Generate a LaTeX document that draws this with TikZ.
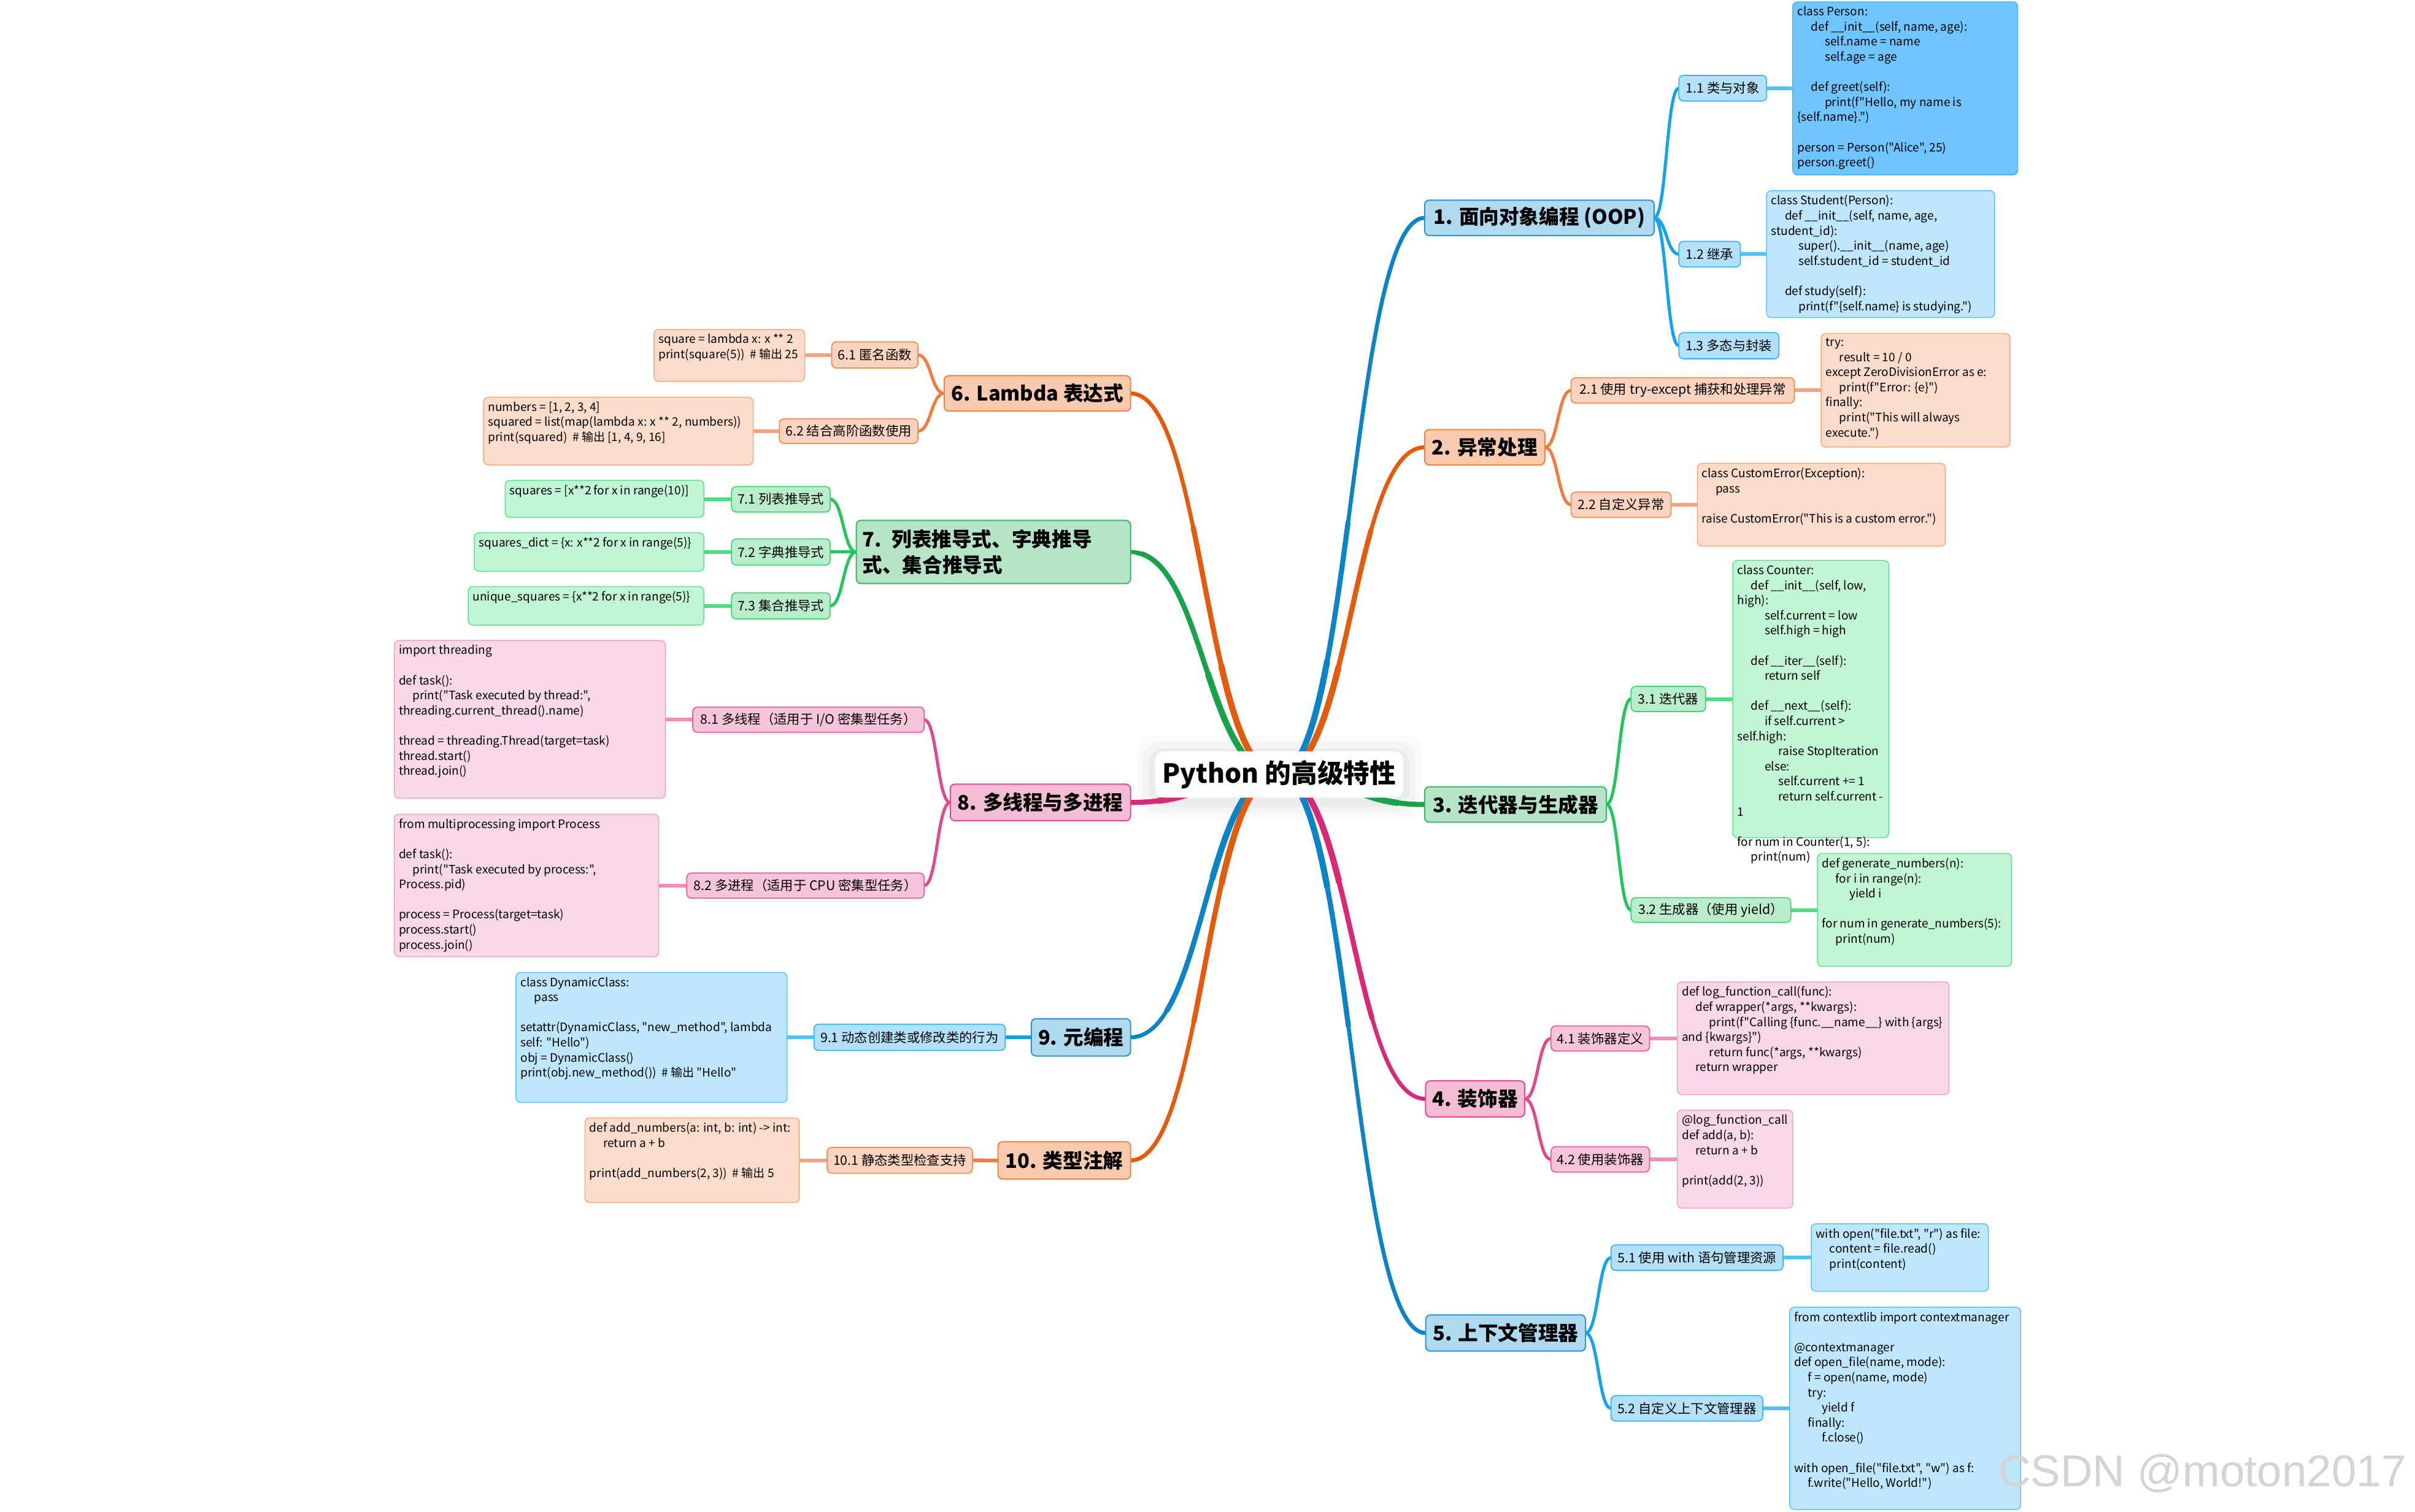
\documentclass[tikz,border=0pt]{standalone}
\usepackage{fontspec}
\newfontfamily\cn{Noto Sans CJK SC}
\newfontfamily\wmfont{Liberation Sans}
\usetikzlibrary{calc}
\pgfdeclarelayer{bg}
\pgfsetlayers{bg,main}
% blue
\definecolor{bLa}{HTML}{0B84C7}\definecolor{bNaF}{HTML}{AED9EF}\definecolor{bNaD}{HTML}{2B95D6}
\definecolor{bLb}{HTML}{12A3EE}\definecolor{bNbF}{HTML}{B3E1F9}\definecolor{bNbD}{HTML}{3BB4F2}
\definecolor{bLc}{HTML}{4DC3F9}\definecolor{bCF}{HTML}{BEE6FD}\definecolor{bCD}{HTML}{5CC1F7}
\definecolor{bCdF}{HTML}{6EC5FF}\definecolor{bCdD}{HTML}{4AB4F6}
% orange
\definecolor{oLa}{HTML}{E65A0C}\definecolor{oNaF}{HTML}{F8CAAE}\definecolor{oNaD}{HTML}{EE8448}
\definecolor{oLb}{HTML}{F57A3C}\definecolor{oNbF}{HTML}{FBD4BF}\definecolor{oNbD}{HTML}{F48B53}
\definecolor{oLc}{HTML}{F8A27D}\definecolor{oCF}{HTML}{FBDCCB}\definecolor{oCD}{HTML}{F6A883}
% green
\definecolor{gLa}{HTML}{17A34A}\definecolor{gNaF}{HTML}{B5E4C7}\definecolor{gNaD}{HTML}{34B96A}
\definecolor{gLb}{HTML}{22C55E}\definecolor{gNbF}{HTML}{B9EDCC}\definecolor{gNbD}{HTML}{44D276}
\definecolor{gLc}{HTML}{4ADE80}\definecolor{gCF}{HTML}{C1F5D5}\definecolor{gCD}{HTML}{63E090}
% pink
\definecolor{pLa}{HTML}{DB2777}\definecolor{pNaF}{HTML}{F3BDD5}\definecolor{pNaD}{HTML}{E2498E}
\definecolor{pLb}{HTML}{E4488C}\definecolor{pNbF}{HTML}{F6C5DA}\definecolor{pNbD}{HTML}{E95C9A}
\definecolor{pLc}{HTML}{F08CB7}\definecolor{pCF}{HTML}{F8D8E7}\definecolor{pCD}{HTML}{F0A2C5}
\definecolor{wmgray}{HTML}{D4D4D4}

\tikzset{
  every node/.style={inner sep=0pt, outer sep=0pt},
  lone/.style={draw, rounded corners=3pt, line width=0.8pt, font=\cn\bfseries\fontsize{13}{15}\selectfont},
  ltwo/.style={draw, rounded corners=3pt, line width=0.7pt, font=\cn\fontsize{8.5}{10}\selectfont},
  codebox/.style={draw, rounded corners=3pt, line width=0.6pt},
  codetext/.style={anchor=north west, align=left, font=\cn\fontsize{7.6}{9.8}\selectfont},
  rootnode/.style={fill=white, rounded corners=6pt, font=\cn\bfseries\fontsize{17}{20}\selectfont},
  bA/.style={fill=bNaF, draw=bNaD}, bB/.style={fill=bNbF, draw=bNbD},
  bC/.style={fill=bCF, draw=bCD}, bCd/.style={fill=bCdF, draw=bCdD},
  oA/.style={fill=oNaF, draw=oNaD}, oB/.style={fill=oNbF, draw=oNbD}, oC/.style={fill=oCF, draw=oCD},
  gA/.style={fill=gNaF, draw=gNaD}, gB/.style={fill=gNbF, draw=gNbD}, gC/.style={fill=gCF, draw=gCD},
  pA/.style={fill=pNaF, draw=pNaD}, pB/.style={fill=pNbF, draw=pNbD}, pC/.style={fill=pCF, draw=pCD},
  lineB/.style={line width=2pt},
  lineC/.style={line width=2.4pt},
}
\newcommand\bx[7]{\node[#1, minimum width={(#5-#3)*1pt}, minimum height={(#6-#4)*1pt}] (#2) at ({(#3+#5)/2},{(#4+#6)/2}) {#7};}
\newcommand\brc[3]{\draw[#1] let \p1=(#2), \p2=(#3) in (#2) .. controls ({0.5*(\x1+\x2)},\y1) and ({0.5*(\x1+\x2)},\y2) .. (#3);}
\newcommand\ii{\hspace*{8.9pt}}
\newcommand\bl{\mbox{}}
\newcommand\mainlines[1]{%
  \brc{#1,bLa}{rc}{n1.west}
  \brc{#1,oLa}{rc}{n2.west}
  \brc{#1,gLa}{rc}{n3.west}
  \brc{#1,pLa}{rc}{n4.west}
  \brc{#1,bLa}{rc}{n5.west}
  \brc{#1,oLa}{rc}{n6.east}
  \brc{#1,gLa}{rc}{n7.east}
  \brc{#1,pLa}{rc}{n8.east}
  \brc{#1,bLa}{rc}{n9.east}
  \brc{#1,oLa}{rc}{n10.east}}

\begin{document}
\begin{tikzpicture}[x=1pt,y=-1pt]
\useasboundingbox (0,0) rectangle (1568,981.6);

% ---------- root ----------
\bx{rootnode}{root}{750}{488}{911}{518}{Python 的高级特性}
\coordinate (rc) at (830,503);

% ---------- level 1 ----------
\bx{lone,bA}{n1}{925}{130}{1074}{153}{1. 面向对象编程 (OOP)}
\bx{lone,oA}{n2}{925}{279}{1003}{302}{2. 异常处理}
\bx{lone,gA}{n3}{925}{511}{1043}{534}{3. 迭代器与生成器}
\bx{lone,pA}{n4}{925.6}{702}{990}{725.4}{4. 装饰器}
\bx{lone,bA}{n5}{925.7}{854}{1029.4}{877.5}{5. 上下文管理器}
\bx{lone,oA}{n6}{613}{244}{734}{267}{6. Lambda 表达式}
\bx{lone,gA,align=left,text width=170pt,font=\cn\bfseries\fontsize{13}{16.6}\selectfont}{n7}{556}{338}{734}{379}{7. 列表推导式、字典推导\\式、集合推导式}
\bx{lone,pA}{n8}{617}{509.3}{734}{533}{8. 多线程与多进程}
\bx{lone,bA}{n9}{669.6}{661.6}{734}{685.8}{9. 元编程}
\bx{lone,oA}{n10}{648}{741.5}{734}{765.8}{10. 类型注解}

% ---------- level 2 ----------
\bx{ltwo,bB}{n11}{1090}{49}{1147}{65.6}{1.1 类与对象}
\bx{ltwo,bB}{n12}{1090}{156.8}{1130}{173.4}{1.2 继承}
\bx{ltwo,bB}{n13}{1090}{216}{1155}{233}{1.3 多态与封装}
\bx{ltwo,oB}{n21}{1020}{245.3}{1165}{261.8}{2.1 使用 try-except 捕获和处理异常}
\bx{ltwo,oB}{n22}{1020}{319.6}{1085}{336}{2.2 自定义异常}
\bx{ltwo,gB}{n31}{1059}{445.8}{1107.4}{462.1}{3.1 迭代器}
\bx{ltwo,gB}{n32}{1059}{583}{1162.7}{599}{3.2 生成器（使用 yield）}
\bx{ltwo,pB}{n41}{1007}{666.3}{1071}{682.6}{4.1 装饰器定义}
\bx{ltwo,pB}{n42}{1007}{744.8}{1071}{761.2}{4.2 使用装饰器}
\bx{ltwo,bB}{n51}{1046}{808.5}{1157.7}{825}{5.1 使用 with 语句管理资源}
\bx{ltwo,bB}{n52}{1046}{906.4}{1144.5}{922.9}{5.2 自定义上下文管理器}
\bx{ltwo,oB}{n61}{540}{222}{596}{239}{6.1 匿名函数}
\bx{ltwo,oB}{n62}{506}{272}{596}{288}{6.2 结合高阶函数使用}
\bx{ltwo,gB}{n71}{475}{316}{539}{332.5}{7.1 列表推导式}
\bx{ltwo,gB}{n72}{475}{350}{539}{367}{7.2 字典推导式}
\bx{ltwo,gB}{n73}{475}{385}{539}{402}{7.3 集合推导式}
\bx{ltwo,pB}{n81}{449.8}{459.2}{600}{475.6}{8.1 多线程（适用于 I/O 密集型任务）}
\bx{ltwo,pB}{n82}{445.9}{567}{600}{583.3}{8.2 多进程（适用于 CPU 密集型任务）}
\bx{ltwo,bB}{n91}{528.5}{665.2}{652.6}{682.2}{9.1 动态创建类或修改类的行为}
\bx{ltwo,oB}{n101}{537}{745.2}{631.4}{762}{10.1 静态类型检查支持}

% ---------- code boxes ----------
\bx{codebox,bCd}{c11}{1164}{1.2}{1310}{113.6}{}
\bx{codebox,bC}{c12}{1147}{123.8}{1295}{206.2}{}
\bx{codebox,oC}{c21}{1182.4}{216.6}{1305}{290.4}{}
\bx{codebox,oC}{c22}{1102}{300.9}{1263}{354.7}{}
\bx{codebox,gC}{c31}{1125}{364}{1226.3}{544}{}
\bx{codebox,gC}{c32}{1180}{554.3}{1306}{627.6}{}
\bx{codebox,pC}{c41}{1089}{637.7}{1265.4}{710.9}{}
\bx{codebox,pC}{c42}{1089}{721}{1164}{784.6}{}
\bx{codebox,bC}{c51}{1176}{794.8}{1291}{838.7}{}
\bx{codebox,bC}{c52}{1162}{849}{1312}{980.3}{}
\bx{codebox,oC}{c61}{424.6}{214}{522.5}{247.7}{}
\bx{codebox,oC}{c62}{314}{258}{489}{302}{}
\bx{codebox,gC}{c71}{328}{312}{457}{336}{}
\bx{codebox,gC}{c72}{308}{346}{457}{371}{}
\bx{codebox,gC}{c73}{304}{381}{457}{406}{}
\bx{codebox,pC}{c81}{256}{416}{432}{518.5}{}
\bx{codebox,pC}{c82}{256}{528.8}{427.7}{621.3}{}
\bx{codebox,bC}{c91}{335}{631.6}{511}{716}{}
\bx{codebox,oC}{c101}{379.8}{726}{519}{781}{}

% ---------- code texts ----------
\node[codetext] (t11) at ($(c11.north west)+(3,3)$) {class Person:\\\ii def \_\_init\_\_(self, name, age):\\\ii\ii self.name = name\\\ii\ii self.age = age\\\bl\\\ii def greet(self):\\\ii\ii print(f"Hello, my name is\\\{self.name\}.")\\\bl\\person = Person("Alice", 25)\\person.greet()};
\node[codetext] (t12) at ($(c12.north west)+(3,3)$) {class Student(Person):\\\ii def \_\_init\_\_(self, name, age,\\student\_id):\\\ii\ii super().\_\_init\_\_(name, age)\\\ii\ii self.student\_id = student\_id\\\bl\\\ii def study(self):\\\ii\ii print(f"\{self.name\} is studying.")};
\node[codetext] (t21) at ($(c21.north west)+(3,3)$) {try:\\\ii result = 10 / 0\\except ZeroDivisionError as e:\\\ii print(f"Error: \{e\}")\\finally:\\\ii print("This will always\\execute.")};
\node[codetext] (t22) at ($(c22.north west)+(3,3)$) {class CustomError(Exception):\\\ii pass\\\bl\\raise CustomError("This is a custom error.")};
\node[codetext] (t31) at ($(c31.north west)+(3,3)$) {class Counter:\\\ii def \_\_init\_\_(self, low,\\high):\\\ii\ii self.current = low\\\ii\ii self.high = high\\\bl\\\ii def \_\_iter\_\_(self):\\\ii\ii return self\\\bl\\\ii def \_\_next\_\_(self):\\\ii\ii if self.current >\\self.high:\\\ii\ii\ii raise StopIteration\\\ii\ii else:\\\ii\ii\ii self.current += 1\\\ii\ii\ii return self.current -\\1\\\bl\\for num in Counter(1, 5):\\\ii print(num)};
\node[codetext] (t32) at ($(c32.north west)+(3,3)$) {def generate\_numbers(n):\\\ii for i in range(n):\\\ii\ii yield i\\\bl\\for num in generate\_numbers(5):\\\ii print(num)};
\node[codetext] (t41) at ($(c41.north west)+(3,3)$) {def log\_function\_call(func):\\\ii def wrapper(*args, **kwargs):\\\ii\ii print(f"Calling \{func.\_\_name\_\_\} with \{args\}\\and \{kwargs\}")\\\ii\ii return func(*args, **kwargs)\\\ii return wrapper};
\node[codetext] (t42) at ($(c42.north west)+(3,3)$) {@log\_function\_call\\def add(a, b):\\\ii return a + b\\\bl\\print(add(2, 3))};
\node[codetext] (t51) at ($(c51.north west)+(3,3)$) {with open("file.txt", "r") as file:\\\ii content = file.read()\\\ii print(content)};
\node[codetext] (t52) at ($(c52.north west)+(3,3)$) {from contextlib import contextmanager\\\bl\\@contextmanager\\def open\_file(name, mode):\\\ii f = open(name, mode)\\\ii try:\\\ii\ii yield f\\\ii finally:\\\ii\ii f.close()\\\bl\\with open\_file("file.txt", "w") as f:\\\ii f.write("Hello, World!")};
\node[codetext] (t61) at ($(c61.north west)+(3,3)$) {square = lambda x: x ** 2\\print(square(5))~ \# 输出 25};
\node[codetext] (t62) at ($(c62.north west)+(3,3)$) {numbers = [1, 2, 3, 4]\\squared = list(map(lambda x: x ** 2, numbers))\\print(squared)~ \# 输出 [1, 4, 9, 16]};
\node[codetext] (t71) at ($(c71.north west)+(3,3)$) {squares = [x**2 for x in range(10)]};
\node[codetext] (t72) at ($(c72.north west)+(3,3)$) {squares\_dict = \{x: x**2 for x in range(5)\}};
\node[codetext] (t73) at ($(c73.north west)+(3,3)$) {unique\_squares = \{x**2 for x in range(5)\}};
\node[codetext] (t81) at ($(c81.north west)+(3,3)$) {import threading\\\bl\\def task():\\\ii print("Task executed by thread:",\\threading.current\_thread().name)\\\bl\\thread = threading.Thread(target=task)\\thread.start()\\thread.join()};
\node[codetext] (t82) at ($(c82.north west)+(3,3)$) {from multiprocessing import Process\\\bl\\def task():\\\ii print("Task executed by process:",\\Process.pid)\\\bl\\process = Process(target=task)\\process.start()\\process.join()};
\node[codetext] (t91) at ($(c91.north west)+(3,3)$) {class DynamicClass:\\\ii pass\\\bl\\setattr(DynamicClass, "new\_method", lambda\\self: "Hello")\\obj = DynamicClass()\\print(obj.new\_method())~ \# 输出 "Hello"};
\node[codetext] (t101) at ($(c101.north west)+(3,3)$) {def add\_numbers(a: int, b: int) -> int:\\\ii return a + b\\\bl\\print(add\_numbers(2, 3))~ \# 输出 5};

% watermark
\node[font=\wmfont\fontsize{29}{32}\selectfont, text=wmgray] (wm) at (1430,957) {CSDN @moton2017};

% ---------- connectors ----------
\begin{pgfonlayer}{bg}
\fill[white] (0,0) rectangle (1568,981.6);
\foreach \e/\o in {12/0.02,8/0.025,4/0.03}
  \fill[black, opacity=\o, rounded corners=10pt] ($(root.north west)+(-\e,-\e+2)$) rectangle ($(root.south east)+(\e,\e+2)$);
% level 1 (tapered: thicker near the root)
\mainlines{line width=2.6pt, line cap=round}
\begin{scope}
  \clip (rc) circle (170);
  \mainlines{line width=3.3pt, line cap=round}
\end{scope}
\begin{scope}
  \clip (rc) circle (80);
  \mainlines{line width=4pt, line cap=round}
\end{scope}
% level 2
\brc{lineB,bLb}{n1.east}{n11.west}
\brc{lineB,bLb}{n1.east}{n12.west}
\brc{lineB,bLb}{n1.east}{n13.west}
\brc{lineB,oLb}{n2.east}{n21.west}
\brc{lineB,oLb}{n2.east}{n22.west}
\brc{lineB,gLb}{n3.east}{n31.west}
\brc{lineB,gLb}{n3.east}{n32.west}
\brc{lineB,pLb}{n4.east}{n41.west}
\brc{lineB,pLb}{n4.east}{n42.west}
\brc{lineB,bLb}{n5.east}{n51.west}
\brc{lineB,bLb}{n5.east}{n52.west}
\brc{lineB,oLb}{n6.west}{n61.east}
\brc{lineB,oLb}{n6.west}{n62.east}
\brc{lineB,gLb}{n7.west}{n71.east}
\brc{lineB,gLb}{n7.west}{n72.east}
\brc{lineB,gLb}{n7.west}{n73.east}
\brc{lineB,pLb}{n8.west}{n81.east}
\brc{lineB,pLb}{n8.west}{n82.east}
\draw[lineC,bLb] (n9.west) -- (n91.east);
\draw[lineC,oLb] (n10.west) -- (n101.east);
% level 3
\draw[lineC,bLc] (n11.east) -- (n11.east -| c11.west);
\draw[lineC,bLc] (n12.east) -- (n12.east -| c12.west);
\draw[lineC,oLc] (n21.east) -- (n21.east -| c21.west);
\draw[lineC,oLc] (n22.east) -- (n22.east -| c22.west);
\draw[lineC,gLc] (n31.east) -- (n31.east -| c31.west);
\draw[lineC,gLc] (n32.east) -- (n32.east -| c32.west);
\draw[lineC,pLc] (n41.east) -- (n41.east -| c41.west);
\draw[lineC,pLc] (n42.east) -- (n42.east -| c42.west);
\draw[lineC,bLc] (n51.east) -- (n51.east -| c51.west);
\draw[lineC,bLc] (n52.east) -- (n52.east -| c52.west);
\draw[lineC,oLc] (n61.west) -- (n61.west -| c61.east);
\draw[lineC,oLc] (n62.west) -- (n62.west -| c62.east);
\draw[lineC,gLc] (n71.west) -- (n71.west -| c71.east);
\draw[lineC,gLc] (n72.west) -- (n72.west -| c72.east);
\draw[lineC,gLc] (n73.west) -- (n73.west -| c73.east);
\draw[lineC,pLc] (n81.west) -- (n81.west -| c81.east);
\draw[lineC,pLc] (n82.west) -- (n82.west -| c82.east);
\draw[lineC,bLc] (n91.west) -- (n91.west -| c91.east);
\draw[lineC,oLc] (n101.west) -- (n101.west -| c101.east);
\end{pgfonlayer}
\end{tikzpicture}
\end{document}
